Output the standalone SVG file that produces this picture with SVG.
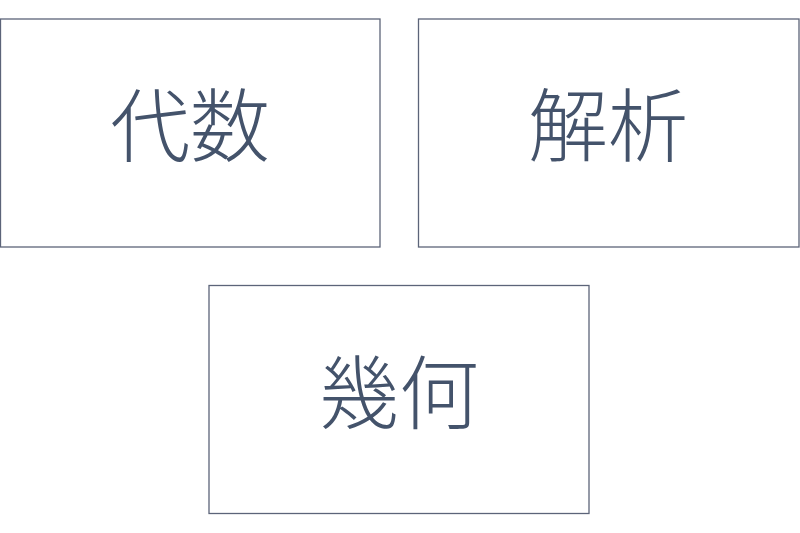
<svg xmlns="http://www.w3.org/2000/svg" width="800" height="533" viewBox="0 0 800 533">
<style>
.box{fill:#ffffff;stroke:#5c6479;stroke-width:1.3}
.lbl{font-family:"Noto Sans CJK JP","Noto Sans CJK SC",sans-serif;font-size:80px;font-weight:300;fill:#44536b;text-anchor:middle;dominant-baseline:central}
</style>
<rect width="800" height="533" fill="#ffffff"/>
<g id="node-algebra">
<rect class="box" x="0.5" y="19" width="379.5" height="228"/>
<text class="lbl" x="190" y="120">代数</text>
</g>
<g id="node-analysis">
<rect class="box" x="418.5" y="19" width="380.5" height="228"/>
<text class="lbl" x="608" y="120">解析</text>
</g>
<g id="node-geometry">
<rect class="box" x="209" y="285.5" width="380" height="228"/>
<text class="lbl" x="399" y="387">幾何</text>
</g>
<g id="connectors"></g>
</svg>
